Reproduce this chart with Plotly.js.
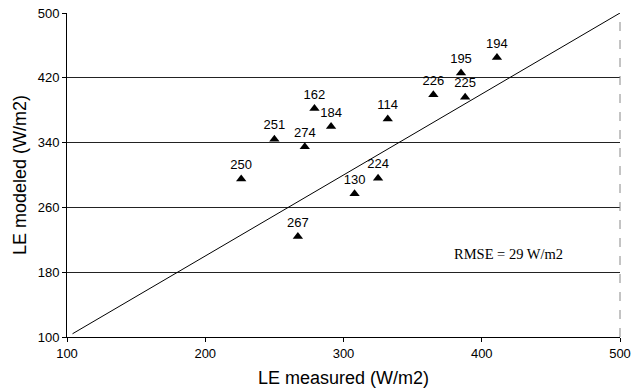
<!DOCTYPE html>
<html>
<head>
<meta charset="utf-8">
<script src="https://cdn.plot.ly/plotly-3.0.1.min.js"></script>
<style>
  html, body { margin: 0; padding: 0; background: #ffffff; }
  #chart { width: 631px; height: 392px; }
</style>
</head>
<body>
<div id="chart"></div>
<script>
// Data
const siteLabels = ["194", "195", "226", "225", "114", "162", "184", "251", "274", "250", "224", "130", "267"];
const leMeasured = [411, 385, 365, 388, 332, 279, 291, 250, 272, 226, 325, 308, 267];
const leModeled  = [445, 426, 399, 396, 369, 382, 360, 344, 335, 295, 296, 277, 224];
const oneToOneX = [104, 500];
const oneToOneY = [104, 500];
const xTicks = [100, 200, 300, 400, 500];
const yTicks = [100, 180, 260, 340, 420, 500];
const rmseText = "RMSE = 29 W/m2";

const points = {
  type: "scatter",
  mode: "markers+text",
  x: leMeasured,
  y: leModeled,
  text: siteLabels,
  textposition: "top center",
  textfont: { family: "Liberation Sans, Arial, sans-serif", size: 13, color: "#000" },
  marker: { symbol: "triangle-up", size: 9, color: "#000" },
  cliponaxis: false,
  hoverinfo: "skip",
  showlegend: false
};

const line = {
  type: "scatter",
  mode: "lines",
  x: oneToOneX,
  y: oneToOneY,
  line: { color: "#000", width: 1 },
  hoverinfo: "skip",
  showlegend: false
};

const layout = {
  width: 631,
  height: 392,
  margin: { l: 67, r: 11, t: 13, b: 55 },
  paper_bgcolor: "#fff",
  plot_bgcolor: "#fff",
  showlegend: false,
  font: { family: "Liberation Sans, Arial, sans-serif", color: "#000" },
  xaxis: {
    range: [100, 500],
    tickvals: xTicks,
    ticktext: xTicks.map(String),
    showgrid: false,
    zeroline: false,
    showline: true,
    linecolor: "#000",
    linewidth: 1,
    ticks: "outside",
    ticklen: 4,
    tickcolor: "#000",
    tickfont: { size: 13, color: "#000" },
    title: { text: "LE measured (W/m2)", font: { size: 18, color: "#000" }, standoff: 11 },
    automargin: false
  },
  yaxis: {
    range: [100, 500],
    tickvals: yTicks,
    ticktext: yTicks.map(String),
    showgrid: true,
    gridcolor: "#222",
    gridwidth: 1,
    zeroline: false,
    showline: true,
    linecolor: "#000",
    linewidth: 1,
    ticks: "outside",
    ticklen: 4,
    tickcolor: "#000",
    tickfont: { size: 13, color: "#000" },
    title: { text: "LE modeled (W/m2)", font: { size: 18, color: "#000" }, standoff: 6 },
    automargin: false
  },
  shapes: [
    { type: "line", xref: "paper", yref: "paper", x0: 1, x1: 1, y0: 0, y1: 1,
      line: { color: "#888", width: 1, dash: "dash" } }
  ],
  annotations: [
    { x: 419, y: 203, xref: "x", yref: "y", text: rmseText, showarrow: false,
      font: { family: "Liberation Serif, Times New Roman, serif", size: 14.5, color: "#000" } }
  ]
};

Plotly.newPlot("chart", [line, points], layout, { staticPlot: true, displayModeBar: false });
</script>
</body>
</html>
